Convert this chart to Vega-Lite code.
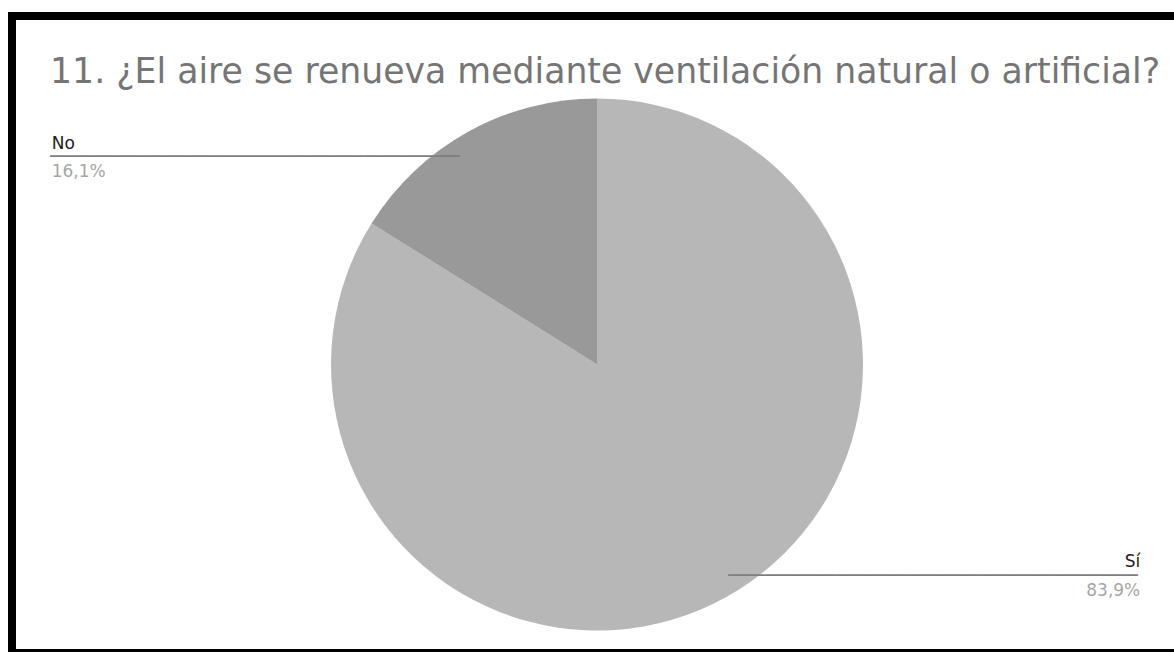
{
  "$schema": "https://vega.github.io/schema/vega-lite/v6.json",
  "width": 1170,
  "height": 637,
  "autosize": {"type": "none"},
  "padding": {"left": 12, "top": 16, "right": -8, "bottom": 0},
  "background": "white",
  "config": {
    "view": {"stroke": "black", "strokeWidth": 8},
    "style": {
      "view": {"stroke": "black", "strokeWidth": 8},
      "cell": {"stroke": "black", "strokeWidth": 8}
    },
    "text": {"font": "DejaVu Sans"}
  },
  "title": {
    "text": "11. ¿El aire se renueva mediante ventilación natural o artificial?",
    "anchor": "start",
    "font": "DejaVu Sans",
    "fontSize": 34.7,
    "fontWeight": "normal",
    "color": "#757575",
    "baseline": "alphabetic",
    "offset": -102,
    "dx": 38
  },
  "data": {
    "values": [
      {"respuesta": "Sí", "porcentaje": 83.9, "etiqueta": "83,9%"},
      {"respuesta": "No", "porcentaje": 16.1, "etiqueta": "16,1%"}
    ]
  },
  "encoding": {
    "theta": {"field": "porcentaje", "type": "quantitative", "stack": true},
    "order": {"field": "porcentaje", "sort": "descending"}
  },
  "layer": [
    {
      "mark": {"type": "arc", "radius": 266, "yOffset": 30},
      "encoding": {
        "color": {
          "field": "respuesta",
          "type": "nominal",
          "scale": {"domain": ["Sí", "No"], "range": ["#b7b7b7", "#999999"]},
          "legend": null
        }
      }
    },
    {
      "mark": {"type": "text", "radius": 240, "align": "right", "baseline": "alphabetic", "dx": -21, "dy": 38, "fontSize": 20, "color": "#808080", "font": "DejaVu Sans"},
      "encoding": {
        "text": {"condition": {"test": "datum.respuesta === 'No'", "value": "──────────────────────────────────"}, "value": ""}
      }
    },
    {
      "mark": {"type": "text", "radius": 240, "align": "left", "baseline": "alphabetic", "dx": -429, "dy": 24, "fontSize": 17, "color": "#212121"},
      "encoding": {
        "text": {"condition": {"test": "datum.respuesta === 'No'", "field": "respuesta"}, "value": ""}
      }
    },
    {
      "mark": {"type": "text", "radius": 240, "align": "left", "baseline": "alphabetic", "dx": -429, "dy": 52, "fontSize": 17, "color": "#a6a6a6"},
      "encoding": {
        "text": {"condition": {"test": "datum.respuesta === 'No'", "field": "etiqueta"}, "value": ""}
      }
    },
    {
      "mark": {"type": "text", "radius": 240, "align": "left", "baseline": "alphabetic", "dx": 15, "dy": 38, "fontSize": 20, "color": "#808080", "font": "DejaVu Sans"},
      "encoding": {
        "text": {"condition": {"test": "datum.respuesta === 'Sí'", "value": "──────────────────────────────────"}, "value": ""}
      }
    },
    {
      "mark": {"type": "text", "radius": 240, "align": "right", "baseline": "alphabetic", "dx": 427, "dy": 23, "fontSize": 17, "color": "#212121"},
      "encoding": {
        "text": {"condition": {"test": "datum.respuesta === 'Sí'", "field": "respuesta"}, "value": ""}
      }
    },
    {
      "mark": {"type": "text", "radius": 240, "align": "right", "baseline": "alphabetic", "dx": 427, "dy": 52, "fontSize": 17, "color": "#a6a6a6"},
      "encoding": {
        "text": {"condition": {"test": "datum.respuesta === 'Sí'", "field": "etiqueta"}, "value": ""}
      }
    }
  ]
}
